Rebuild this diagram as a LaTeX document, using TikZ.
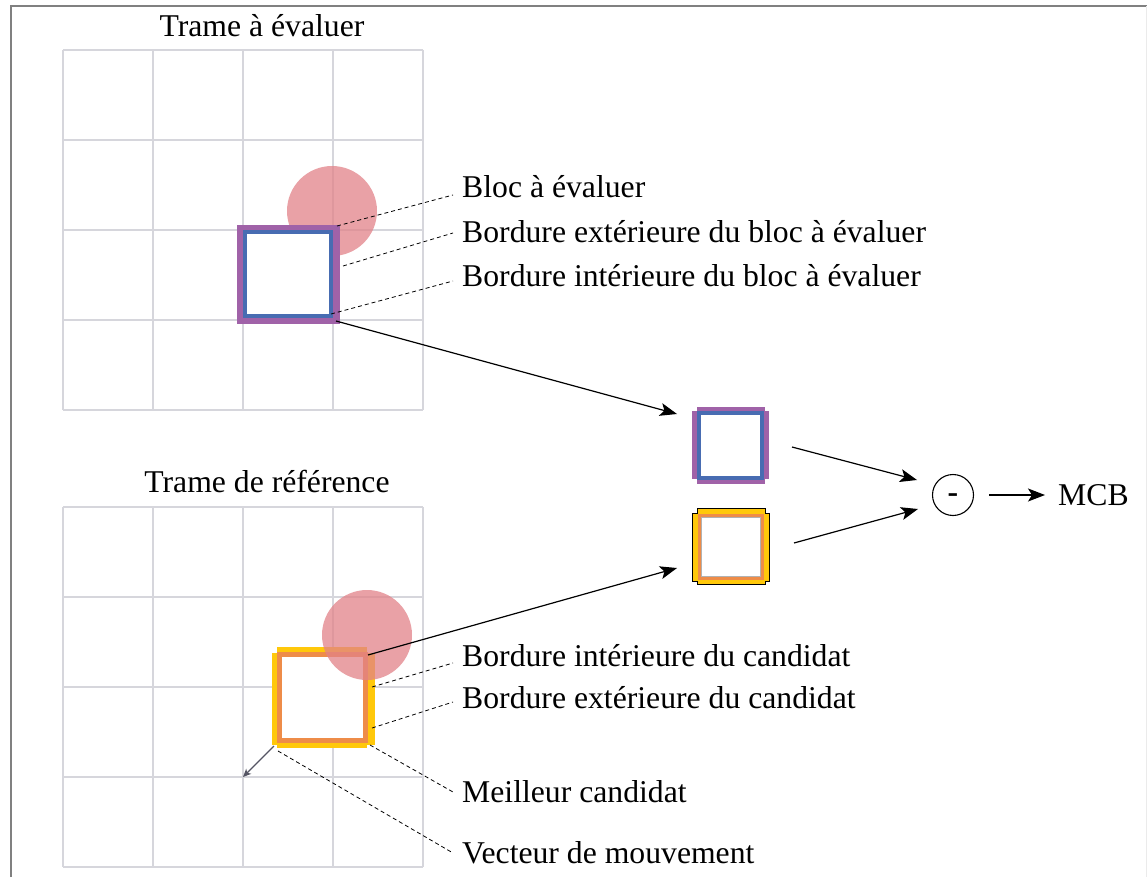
\documentclass[tikz,border=0pt]{standalone}
\usepackage{fontspec}
\setmainfont{Liberation Serif}
\usetikzlibrary{arrows.meta}
\definecolor{cpurple}{RGB}{160,98,168}
\definecolor{cblue}{RGB}{72,108,178}
\definecolor{cyellow}{RGB}{255,200,10}
\definecolor{corange}{RGB}{238,140,72}
\definecolor{cred}{RGB}{226,130,136}
\definecolor{cgrid}{RGB}{214,214,220}
\definecolor{cframe}{RGB}{128,128,128}
\definecolor{cvec}{RGB}{85,85,100}
\tikzset{
  txt/.style={font=\fontsize{31.7pt}{38pt}\selectfont, inner sep=0pt},
  lbl/.style={txt, anchor=base west},
  ttl/.style={txt, anchor=base},
  gridline/.style={cgrid, line width=1.6pt},
  dashline/.style={line width=0.8pt, dash pattern=on 4pt off 3pt},
  arr/.style={line width=1.2pt, -{Stealth[length=17pt,width=13pt,inset=4pt]}},
  vecarr/.style={cvec, line width=1.3pt, -{Stealth[length=8pt,width=7pt,inset=2pt]}},
  blob/.style={fill=cred, opacity=0.75}
}
\begin{document}
\begin{tikzpicture}[x=1pt,y=-1pt]
\useasboundingbox (0,0) rectangle (1147,877);
% frame
\draw[cframe, line width=2pt] (10.5,877) -- (10.5,6.5) -- (1147,6.5);
\draw[black!8, line width=1pt] (1146,6.5) -- (1146,877);

% ===== top frame =====
\foreach \gx in {63,153,243,333,423} \draw[gridline] (\gx,50) -- (\gx,410);
\foreach \gy in {50,140,230,320,410} \draw[gridline] (63,\gy) -- (423,\gy);
\fill[blob] (332,211) circle (45);
\fill[cpurple] (237,225) rectangle (340,324);
\draw[cblue, line width=3.5pt] (245,232) rectangle (331,316);
\fill[white] (247,234) rectangle (329,314);
\node[ttl] (t1) at (262,37) {Trame à évaluer};

% ===== bottom frame =====
\foreach \gx in {63,153,243,333,423} \draw[gridline] (\gx,507) -- (\gx,867);
\foreach \gy in {507,597,687,777,867} \draw[gridline] (63,\gy) -- (423,\gy);
\fill[cyellow] (277,647) rectangle (367,748);
\fill[cyellow] (272,653) rectangle (375,745);
\draw[corange, line width=5pt] (279.5,654.5) rectangle (365.5,740.5);
\fill[white] (282,657) rectangle (363,738);
\fill[blob] (367,635) circle (45);
\node[ttl] (t2) at (267,492) {Trame de référence};

% ===== middle squares =====
\fill[cpurple] (697,407) rectangle (765,484);
\fill[cpurple] (692,411) rectangle (769,479);
\draw[cblue, line width=3.5pt] (699,413) rectangle (762,478);
\fill[white] (701,415) rectangle (760,476);

\filldraw[fill=cyellow, draw=black, line width=0.7pt]
  (697,508) -- (765,508) -- (765,513) -- (769,513) -- (769,581) -- (765,581)
  -- (765,584) -- (697,584) -- (697,581) -- (692,581) -- (692,513) -- (697,513) -- cycle;
\draw[corange, line width=3.5pt] (699.5,515.5) rectangle (762.5,578.5);
\filldraw[fill=white, draw=black!30, line width=0.6pt] (701.5,517.5) rectangle (760.5,576.5);

% ===== difference =====
\node[draw, circle, minimum size=41pt, inner sep=0pt, line width=1.1pt] (minus) at (953,495) {};
\node[txt, anchor=base] (minussign) at (953,502) {\bfseries -};
\node[lbl] (mcb) at (1058,505) {MCB};

% ===== labels =====
\node[lbl] (bloc) at (462,198) {Bloc à évaluer};
\node[lbl] (bext) at (462,242) {Bordure extérieure du bloc à évaluer};
\node[lbl] (bint) at (462,286) {Bordure intérieure du bloc à évaluer};
\node[lbl] (cint) at (462,666) {Bordure intérieure du candidat};
\node[lbl] (cext) at (462,708) {Bordure extérieure du candidat};
\node[lbl] (best) at (462,802) {Meilleur candidat};
\node[lbl] (vmv) at (462,863) {Vecteur de mouvement};

% ===== coordinates =====
\coordinate (a1) at (337,226); \coordinate (e1) at (453,195);
\coordinate (a2) at (343,266); \coordinate (e2) at (453,233);
\coordinate (a3) at (331,314); \coordinate (e3) at (453,281);
\coordinate (b1) at (372,687); \coordinate (f1) at (453,663);
\coordinate (b2) at (372,728); \coordinate (f2) at (453,702);
\coordinate (b3) at (370,745); \coordinate (f3) at (453,792);
\coordinate (b4) at (278,751); \coordinate (f4) at (453,853);
\coordinate (s1) at (336,321); \coordinate (m1) at (677,414);
\coordinate (s2) at (368,655); \coordinate (m2) at (677,568);
\coordinate (q1) at (792,447); \coordinate (r1) at (917,480);
\coordinate (q2) at (794,543); \coordinate (r2) at (918,509);
\coordinate (o1) at (989,495); \coordinate (o2) at (1045,495);
\coordinate (v1) at (274,746); \coordinate (v2) at (243,777);

% ===== connectors =====
\draw[dashline] (a1) -- (e1);
\draw[dashline] (a2) -- (e2);
\draw[dashline] (a3) -- (e3);
\draw[dashline] (b1) -- (f1);
\draw[dashline] (b2) -- (f2);
\draw[dashline] (b3) -- (f3);
\draw[dashline] (b4) -- (f4);
\draw[arr] (s1) -- (m1);
\draw[arr] (s2) -- (m2);
\draw[arr] (q1) -- (r1);
\draw[arr] (q2) -- (r2);
\draw[arr] (o1) -- (o2);
\draw[vecarr] (v1) -- (v2);
\end{tikzpicture}
\end{document}
